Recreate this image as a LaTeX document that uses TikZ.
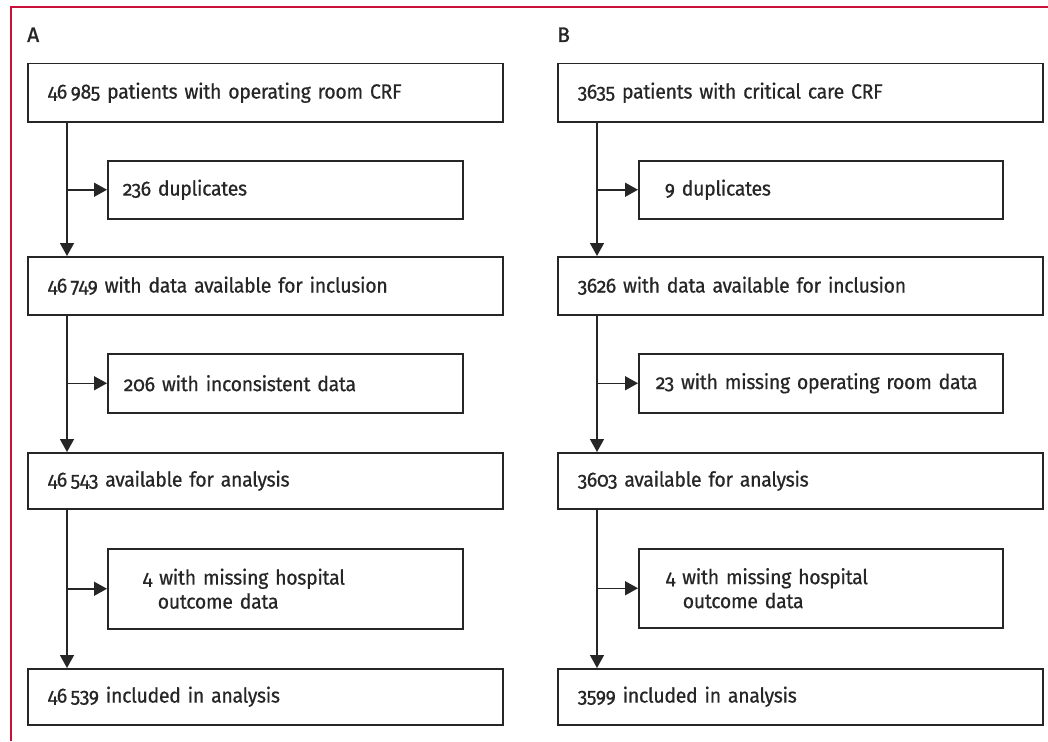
\documentclass[tikz,border=0pt]{standalone}
\usepackage{fontspec}
\setmainfont[Numbers=OldStyle,FakeStretch=0.95,LetterSpace=-1.5,WordSpace=0.55,FakeBold=0.6]{Fira Sans}
\newfontfamily\lblfont[FakeBold=1.2]{Fira Sans}
\usetikzlibrary{arrows.meta}
\definecolor{framec}{HTML}{C8103A}
\definecolor{boxc}{HTML}{262626}
\tikzset{
  bx/.style={draw=boxc, line width=1.5pt, anchor=north west, align=left,
    inner ysep=0pt, text=boxc, font=\fontsize{20.5}{24}\selectfont},
  dims/.style n args={3}{minimum height=#1, inner xsep=#2, text width=#3},
  arr/.style={draw=boxc, line width=1.5pt, -{Triangle[length=13pt,width=14pt]}},
  lbl/.style={anchor=base west, inner sep=0pt, text=boxc, font=\lblfont\fontsize{21}{24}\selectfont},
  framel/.style={draw=framec, line width=2pt}
}
\begin{document}
\begin{tikzpicture}[x=1pt,y=-1pt]
\useasboundingbox (0,0) rectangle (1048,741);
\draw[framel] (11,741) -- (11,7) -- (1048,7);

% Panel A
\node[lbl] (la) at (27,42) {A};
\node[bx,dims={58pt}{20pt}{435pt}] (a1) at (27,63) {46\,985 patients with operating room CRF};
\node[bx,dims={58pt}{15pt}{325pt}] (as1) at (107,160) {236 duplicates};
\node[bx,dims={58pt}{20pt}{435pt}] (a2) at (27,256) {46\,749 with data available for inclusion};
\node[bx,dims={59pt}{16pt}{323pt}] (as2) at (107,353) {206 with inconsistent data};
\node[bx,dims={56pt}{20pt}{435pt}] (a3) at (27,452) {46\,543 available for analysis};
\node[bx,dims={80pt}{35pt}{285pt}] (as3) at (107,548) {4 with missing hospital\\\hspace*{15pt}outcome data};
\node[bx,dims={56pt}{20pt}{435pt}] (a4) at (27,668) {46\,539 included in analysis};
\coordinate (ax) at (67,0);
\draw[arr] (ax |- a1.south) -- (ax |- a2.north);
\draw[arr] (ax |- a2.south) -- (ax |- a3.north);
\draw[arr] (ax |- a3.south) -- (ax |- a4.north);
\draw[arr] (ax |- as1.west) -- (as1.west);
\draw[arr] (ax |- as2.west) -- (as2.west);
\draw[arr] (ax |- as3.west) -- (as3.west);

% Panel B
\node[lbl] (lb) at (557,42) {B};
\node[bx,dims={58pt}{20pt}{445pt}] (b1) at (557,63) {3635 patients with critical care CRF};
\node[bx,dims={58pt}{26pt}{312pt}] (bs1) at (638,160) {9 duplicates};
\node[bx,dims={58pt}{20pt}{445pt}] (b2) at (557,256) {3626 with data available for inclusion};
\node[bx,dims={59pt}{17pt}{330pt}] (bs2) at (638,353) {23 with missing operating room data};
\node[bx,dims={56pt}{20pt}{445pt}] (b3) at (557,452) {3603 available for analysis};
\node[bx,dims={79pt}{27pt}{310pt}] (bs3) at (638,548) {4 with missing hospital\\\hspace*{17pt}outcome data};
\node[bx,dims={56pt}{20pt}{445pt}] (b4) at (557,668) {3599 included in analysis};
\coordinate (bx) at (597,0);
\draw[arr] (bx |- b1.south) -- (bx |- b2.north);
\draw[arr] (bx |- b2.south) -- (bx |- b3.north);
\draw[arr] (bx |- b3.south) -- (bx |- b4.north);
\draw[arr] (bx |- bs1.west) -- (bs1.west);
\draw[arr] (bx |- bs2.west) -- (bs2.west);
\draw[arr] (bx |- bs3.west) -- (bs3.west);
\end{tikzpicture}
\end{document}
